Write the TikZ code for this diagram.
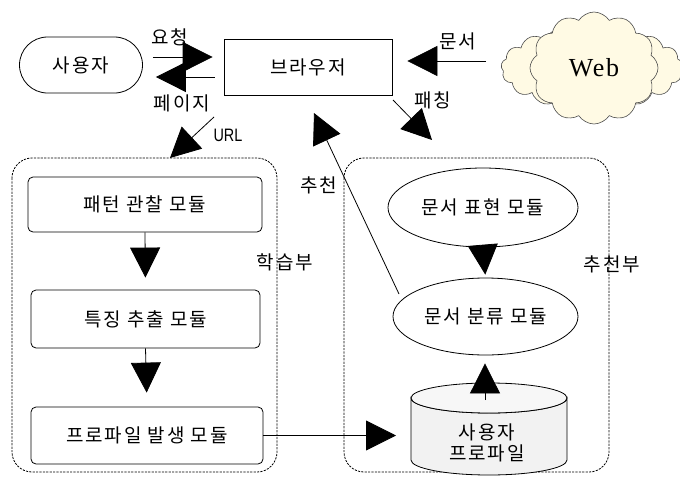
\documentclass[tikz,border=0pt]{standalone}
\usepackage{fontspec}
\newfontfamily\kr[LetterSpace=10]{Noto Sans CJK KR}
\newfontfamily\webfont[LetterSpace=6]{Liberation Serif}
\newfontfamily\latinnarrow[FakeStretch=0.8]{Liberation Sans}
\usetikzlibrary{arrows.meta,shapes.geometric,shapes.symbols,calc}
\definecolor{cream}{RGB}{255,250,228}
\definecolor{storegray}{RGB}{242,242,242}
\begin{document}
\begin{tikzpicture}[x=1pt,y=-1pt,
  txt/.style={font=\kr\fontsize{19}{22}\selectfont},
  label/.style={txt, inner sep=0pt},
  big/.style={draw, line width=0.8pt, -{Triangle[length=30pt,width=30pt]}},
  modbox/.style={txt, draw, line width=0.8pt, rounded corners=5pt},
  modell/.style={txt, draw, line width=0.8pt, ellipse},
  part/.style={draw, line width=0.8pt, rounded corners=20pt, dash pattern=on 2.2pt off 1.2pt},
  puff/.style={cloud, draw=black!70, line width=0.6pt, fill=cream}]
\useasboundingbox (0,0) rectangle (680,482);

% dotted containers for the two subsystems
\draw[part] (12,158) rectangle (277,472);
\draw[part] (344,158) rectangle (609,472);

% top row: user, browser, web
\node[txt, draw, line width=0.8pt, rounded corners=28pt,
      minimum width=123pt, minimum height=56pt] (user) at (81,65) {사용자};
\node[txt, draw, line width=0.8pt,
      minimum width=168pt, minimum height=56pt] (browser) at (308,67) {브라우저};
\node[puff, cloud puffs=17, cloud puff arc=120, aspect=2.4,
      minimum width=182pt, minimum height=84pt] (webback) at (592,68) {};
\node[puff, cloud puffs=12, cloud puff arc=115, aspect=1.25,
      minimum width=128pt, minimum height=112pt,
      font=\webfont\fontsize{26}{26}\selectfont] (web) at (594,68) {Web};

% learning part
\node[modbox, minimum width=234pt, minimum height=55pt] (pattern) at (145,204.5) {패턴 관찰 모듈};
\node[modbox, minimum width=229pt, minimum height=58pt] (feature) at (145.5,319) {특징 추출 모듈};
\node[modbox, minimum width=232pt, minimum height=57pt] (profile) at (147,435.5) {프로파일 발생 모듈};

% recommendation part
\node[modell, minimum width=190pt, minimum height=79pt] (docrep) at (483,207.5) {문서 표현 모듈};
\node[modell, minimum width=185pt, minimum height=77pt] (classify) at (485.5,316.5) {문서 분류 모듈};

% user profile store (cylinder)
\path[draw, line width=0.8pt, fill=storegray]
  (411,398) -- (411,460) arc[start angle=180, end angle=0, x radius=78, y radius=15]
  -- (567,398) arc[start angle=0, end angle=180, x radius=78, y radius=15] -- cycle;
\draw[line width=0.8pt, fill=storegray!60] (489,398) ellipse[x radius=78, y radius=15];
\node[align=center, inner sep=0pt, font=\kr\fontsize{19}{24}\selectfont] (store) at (487,443) {사용자\\[-3pt]프로파일};

% labels
\node[label] (lreq) at (170,37) {요청};
\node[label] (lpage) at (182,103) {페이지};
\node[inner sep=0pt, font=\latinnarrow\fontsize{18}{18}\selectfont] (lurl) at (228,135) {URL};
\node[label] (ldoc) at (458,41) {문서};
\node[label] (lfetch) at (433,100) {패칭};
\node[label] (lrec) at (319,185) {추천};
\node[label] (llearn) at (285,262) {학습부};
\node[label] (lrecpart) at (612,264) {추천부};

% connector end points
\coordinate (webin) at (486,61);
\coordinate (urlfrom) at (214,117);
\coordinate (urlto) at (170,158);
\coordinate (fetchfrom) at (393,100);
\coordinate (fetchto) at (432,140);
\coordinate (recfrom) at (399,294);
\coordinate (recto) at (314,113);
\coordinate (storetop) at (485,400);

% connectors
\draw[big, shorten <=10pt, shorten >=11pt] ([yshift=8pt]user.east) -- ([yshift=8pt]user.east -| browser.west);
\draw[big, shorten <=9pt, shorten >=13pt] ([yshift=-10pt]browser.west) -- ([yshift=-10pt]browser.west -| user.east);
\draw[big, shorten >=15pt] (webin) -- (webin -| browser.east);
\draw[big] (urlfrom) -- (urlto);
\draw[big] (fetchfrom) -- (fetchto);
\draw[big] (recfrom) -- (recto);
\draw[big, shorten >=12pt] (pattern.south) -- (feature.north);
\draw[big, shorten >=14pt] (feature.south) -- (profile.north);
\draw[big, shorten >=15pt] (profile.east) -- (profile.east -| 411,0);
\draw[big, shorten >=3pt] (docrep.south) -- (classify.north);
\draw[big, shorten >=8pt] (storetop) -- (storetop |- classify.south);
\end{tikzpicture}
\end{document}
